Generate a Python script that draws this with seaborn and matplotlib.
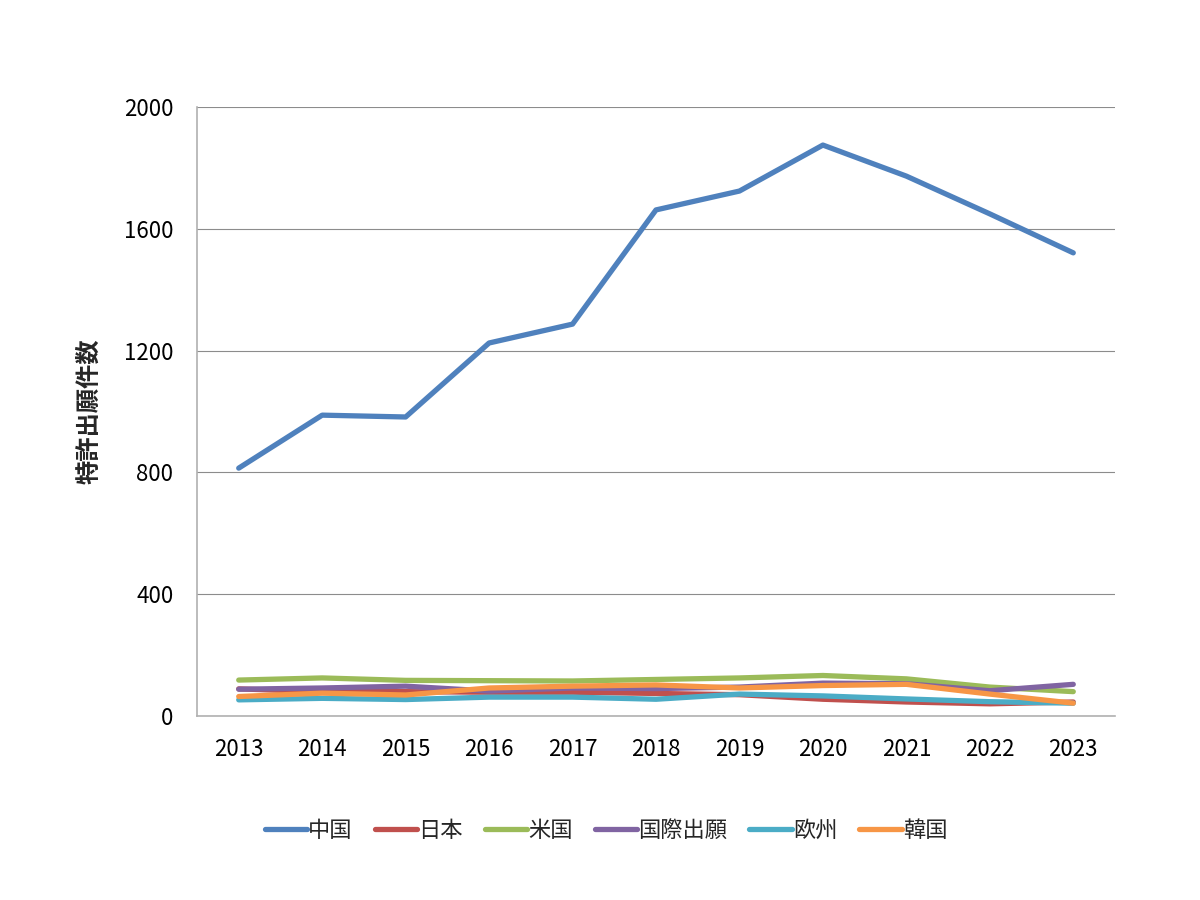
import matplotlib
matplotlib.use("Agg")
import matplotlib.pyplot as plt
import pandas as pd
import seaborn as sns

YEARS = [2013, 2014, 2015, 2016, 2017, 2018, 2019, 2020, 2021, 2022, 2023]
CHINA = [814, 988, 982, 1225, 1287, 1662, 1724, 1875, 1773, 1649, 1521]
JAPAN = [89, 80, 80, 78, 78, 74, 70, 55, 46, 40, 46]
USA = [118, 125, 117, 116, 115, 120, 125, 133, 122, 95, 80]
PCT = [88, 92, 98, 82, 92, 90, 95, 108, 106, 83, 104]
EUROPE = [53, 58, 54, 62, 62, 55, 72, 66, 56, 47, 42]
KOREA = [64, 75, 69, 92, 98, 102, 92, 100, 104, 72, 42]

SERIES = ["中国", "日本", "米国", "国際出願", "欧州", "韓国"]
COLORS = ["#4F81BD", "#C0504D", "#9BBB59", "#8064A2", "#4BACC6", "#F79646"]
Y_TICKS = [0, 400, 800, 1200, 1600, 2000]

df = pd.DataFrame({"year": YEARS, "中国": CHINA, "日本": JAPAN, "米国": USA,
                   "国際出願": PCT, "欧州": EUROPE, "韓国": KOREA})
long_df = df.melt(id_vars="year", var_name="series", value_name="count")

sns.set_theme(style="white")
plt.rcParams["font.family"] = ["Noto Sans CJK JP", "DejaVu Sans"]

fig = plt.figure(figsize=(12, 9), dpi=100)
ax = fig.add_axes([197 / 1200, 1 - 716 / 900, 918 / 1200, 609 / 900])

sns.lineplot(data=long_df, x="year", y="count", hue="series", hue_order=SERIES,
             palette=COLORS, linewidth=3.8, ax=ax, legend=True,
             solid_capstyle="round")

ax.set_xlim(2012.5, 2023.5)
ax.set_ylim(0, 2000)
ax.set_yticks(Y_TICKS)
ax.set_xticks(YEARS)
ax.set_xticklabels([str(y) for y in YEARS])
ax.yaxis.grid(True, color="#8C8C8C", linewidth=0.8)
ax.set_axisbelow(True)
for side in ["top", "right"]:
    ax.spines[side].set_visible(False)
for side in ["left", "bottom"]:
    ax.spines[side].set_color("#B0B0B0")
    ax.spines[side].set_linewidth(1.2)
ax.tick_params(axis="both", length=0, labelsize=16, colors="black")
ax.tick_params(axis="x", pad=16)
ax.tick_params(axis="y", pad=17)
ax.set_xlabel("")
ax.set_ylabel("特許出願件数", fontsize=17.5, fontweight="bold", labelpad=16)

# legend sits left of the axes centre, like the original
handles, labels = ax.get_legend_handles_labels()
ax.legend(handles, labels, loc="center", bbox_to_anchor=(0.4455, -0.188), ncol=6,
          frameon=False, fontsize=16, handlelength=1.9, handletextpad=0.05,
          columnspacing=1.0)

fig.savefig("out.png", dpi=100)
